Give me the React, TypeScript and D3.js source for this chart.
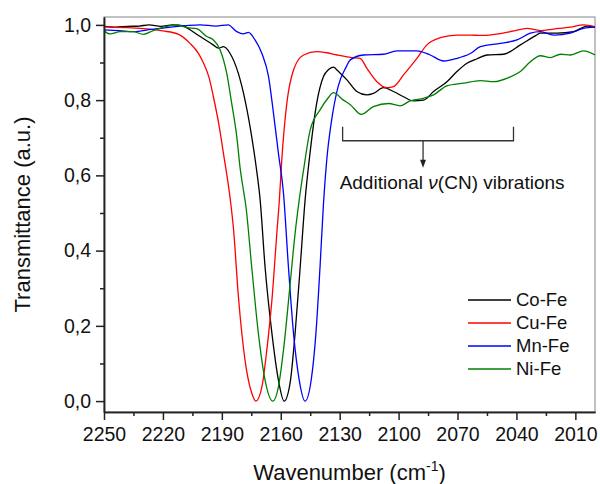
import React, { useEffect, useRef } from 'react';
import * as d3 from 'd3';

const width = 600, height = 484;
const margin = { top: 17, right: 5, bottom: 72, left: 104 };
const font = "'Liberation Sans', Arial, sans-serif";

// [wavenumber, transmittance]
const coFe: [number, number][] = [
    [2250, 0.996], [2244, 0.994], [2238, 0.996], [2232, 0.997], [2227, 1.0], [2221, 0.996], [2215, 1.0],
    [2210, 0.998], [2206.2, 0.987], [2201, 0.969], [2194.4, 0.947], [2191.8, 0.938], [2189.2, 0.942],
    [2185.8, 0.924], [2181.6, 0.871], [2178.2, 0.80], [2174.8, 0.703], [2172.3, 0.614], [2170.5, 0.535],
    [2168, 0.357], [2164.5, 0.18], [2161.2, 0.056], [2158.3, 0.0], [2155.2, 0.05], [2152.7, 0.18],
    [2150.1, 0.357], [2147.6, 0.535], [2145.1, 0.659], [2141.7, 0.792], [2138.3, 0.862], [2135.5, 0.882],
    [2133, 0.888], [2131.4, 0.88], [2126.3, 0.854], [2121.3, 0.823], [2116.2, 0.814], [2112.8, 0.818],
    [2107.7, 0.833], [2102.6, 0.823], [2097.5, 0.809], [2092.4, 0.798], [2087.3, 0.80], [2082.2, 0.823],
    [2075.4, 0.849], [2070.3, 0.876], [2065.2, 0.898], [2060, 0.91], [2055, 0.92], [2046.5, 0.922],
    [2038, 0.947], [2030, 0.972], [2027.8, 0.978], [2019.3, 0.978], [2010.9, 0.982], [2004, 0.997],
    [2000, 0.994]
];

const cuFe: [number, number][] = [
    [2250, 0.995], [2240, 0.993], [2230, 0.99], [2220, 0.984], [2212, 0.975], [2206.2, 0.951], [2202, 0.925],
    [2199.3, 0.898], [2196.5, 0.86], [2194.3, 0.809], [2191.5, 0.735], [2189.2, 0.659], [2185.8, 0.54],
    [2184.1, 0.46], [2181.6, 0.28], [2178.2, 0.109], [2174.7, 0.02], [2172.7, 0.0], [2169.6, 0.038],
    [2167.1, 0.136], [2164.5, 0.269], [2162, 0.446], [2160.7, 0.535], [2159.5, 0.64], [2156.9, 0.792],
    [2153.5, 0.88], [2148.4, 0.92], [2141.6, 0.929], [2136.5, 0.926], [2131.4, 0.92], [2124, 0.913],
    [2119.6, 0.911], [2116.2, 0.885], [2111, 0.849], [2105.9, 0.833], [2102.6, 0.836], [2097.5, 0.867],
    [2090.7, 0.911], [2085.6, 0.947], [2078.8, 0.966], [2070.3, 0.973], [2063.5, 0.973], [2058.4, 0.972],
    [2048.2, 0.977], [2041.4, 0.984], [2034.6, 0.991], [2027.8, 0.985], [2021, 0.989], [2012.5, 0.994],
    [2005.8, 1.0], [2000, 0.995]
];

const mnFe: [number, number][] = [
    [2250, 0.987], [2242, 0.985], [2235, 0.982], [2226, 0.988], [2218, 0.993], [2208, 0.998], [2201, 1.0],
    [2193, 0.997], [2186.8, 1.0], [2182.4, 0.982], [2179, 0.976], [2176.5, 0.98], [2173.1, 0.96],
    [2169.6, 0.924], [2166.2, 0.862], [2163.7, 0.765], [2161.2, 0.659], [2158.6, 0.552], [2156.1, 0.357],
    [2153.5, 0.18], [2150.6, 0.056], [2147.6, 0.0], [2144.5, 0.056], [2142.1, 0.18], [2140, 0.357],
    [2138.3, 0.52], [2136.6, 0.64], [2134.1, 0.747], [2130.8, 0.836], [2126.6, 0.889], [2124.6, 0.907],
    [2117.9, 0.92], [2107.7, 0.922], [2100.9, 0.931], [2090.7, 0.931], [2083.9, 0.92], [2077.1, 0.904],
    [2070.3, 0.911], [2063.5, 0.924], [2058.4, 0.942], [2048.2, 0.951], [2039.7, 0.96], [2032.9, 0.978],
    [2027.8, 0.982], [2021, 0.973], [2012.5, 0.978], [2005.8, 0.991], [2000, 0.994]
];

const niFe: [number, number][] = [
    [2250, 0.985], [2247, 0.976], [2241.8, 0.982], [2235.1, 0.982], [2230, 0.975], [2224.9, 0.985],
    [2218.1, 0.996], [2213, 1.0], [2207.9, 0.993], [2202.8, 0.99], [2197.7, 0.969], [2194.3, 0.96],
    [2190.9, 0.934], [2187.5, 0.871], [2185, 0.792], [2182.4, 0.703], [2180.7, 0.62], [2179, 0.56],
    [2177.8, 0.52], [2174.8, 0.357], [2171.4, 0.18], [2168, 0.056], [2164, 0.0], [2161.2, 0.038],
    [2158.6, 0.136], [2155.2, 0.313], [2152.7, 0.446], [2150.6, 0.535], [2148.4, 0.614], [2145, 0.721],
    [2140, 0.774], [2136, 0.805], [2133.2, 0.82], [2128.1, 0.80], [2124.6, 0.788], [2119, 0.762],
    [2112.8, 0.783], [2105, 0.791], [2099.2, 0.785], [2094.1, 0.798], [2087.3, 0.805], [2082.2, 0.814],
    [2075.4, 0.838], [2066.9, 0.845], [2058.4, 0.852], [2051.6, 0.849], [2043.1, 0.862], [2038, 0.876],
    [2032.9, 0.902], [2027.8, 0.918], [2022.7, 0.913], [2017.6, 0.922], [2012.5, 0.92], [2005.8, 0.931],
    [2000, 0.92]
];

const seriesNames = ['Co-Fe', 'Cu-Fe', 'Mn-Fe', 'Ni-Fe'];
const seriesColors = ['#000000', '#ff0000', '#0000ff', '#008000'];
const seriesData = [coFe, cuFe, mnFe, niFe];

const xTicks = [2250, 2220, 2190, 2160, 2130, 2100, 2070, 2040, 2010];
const xMinorTicks = [2235, 2205, 2175, 2145, 2115, 2085, 2055, 2025];
const yTicks = [0, 0.2, 0.4, 0.6, 0.8, 1.0];
const yMinorTicks = [0.1, 0.3, 0.5, 0.7, 0.9];

// bracket marking the additional v(CN) band region
const bracketRange = [2128.5, 2041.5];
const bracketTop = 0.729, bracketBar = 0.692, arrowTip = 0.62, noteBaseline = 0.563;

const xScale = d3.scaleLinear().domain([2250, 2000]).range([margin.left, width - margin.right]);
const yScale = d3.scaleLinear().domain([-0.029, 1.021]).range([height - margin.bottom, margin.top]);

const line = d3.line<[number, number]>()
    .x(d => xScale(d[0]))
    .y(d => yScale(d[1]))
    .curve(d3.curveMonotoneX);

const fmt = (d: d3.NumberValue) => d3.format('.1f')(d as number).replace('.', ',');

export default function App() {
    const xRef = useRef<SVGGElement>(null);
    const xMinorRef = useRef<SVGGElement>(null);
    const yRef = useRef<SVGGElement>(null);
    const yMinorRef = useRef<SVGGElement>(null);

    useEffect(() => {
        const style = (g: d3.Selection<SVGGElement, unknown, null, undefined>) => {
            g.attr('font-family', font).attr('font-size', 19.5);
            g.selectAll('path, line').attr('stroke', '#222').attr('stroke-width', 1.5);
            g.selectAll('text').attr('fill', '#111');
        };
        d3.select(xRef.current!).call(
            d3.axisBottom(xScale).tickValues(xTicks).tickSize(8).tickSizeOuter(0).tickPadding(7).tickFormat(d3.format('d'))
        ).call(style);
        d3.select(xMinorRef.current!).call(
            d3.axisBottom(xScale).tickValues(xMinorTicks).tickSize(4).tickSizeOuter(0).tickFormat(() => '')
        ).call(style);
        d3.select(yRef.current!).call(
            d3.axisLeft(yScale).tickValues(yTicks).tickSize(8).tickSizeOuter(0).tickPadding(5).tickFormat(fmt)
        ).call(style);
        d3.select(yMinorRef.current!).call(
            d3.axisLeft(yScale).tickValues(yMinorTicks).tickSize(4).tickSizeOuter(0).tickFormat(() => '')
        ).call(style);
    }, []);

    const plotW = width - margin.left - margin.right;
    const plotH = height - margin.top - margin.bottom;
    const midX = xScale((bracketRange[0] + bracketRange[1]) / 2) - 5;

    return (
        <svg width={width} height={height} viewBox={`0 0 ${width} ${height}`}
            style={{ position: 'absolute', left: 0, top: 0, background: '#fff' }}>
            <defs>
                <clipPath id="plot">
                    <rect x={margin.left} y={margin.top} width={plotW} height={plotH} />
                </clipPath>
            </defs>
            <rect x={margin.left} y={margin.top} width={plotW} height={plotH} fill="none" stroke="#9a9a9a" strokeWidth={1.2} />
            <g clipPath="url(#plot)">
                {seriesData.map((s, i) => (
                    <path key={seriesNames[i]} d={line(s) || ''} fill="none" stroke={seriesColors[i]} strokeWidth={1.3} />
                ))}
            </g>
            <g ref={xMinorRef} transform={`translate(0,${height - margin.bottom})`} />
            <g ref={xRef} transform={`translate(0,${height - margin.bottom})`} />
            <g ref={yMinorRef} transform={`translate(${margin.left},0)`} />
            <g ref={yRef} transform={`translate(${margin.left},0)`} />

            {/* annotation bracket */}
            <path d={`M${xScale(bracketRange[0])},${yScale(bracketTop)}V${yScale(bracketBar)}H${xScale(bracketRange[1])}V${yScale(bracketTop)}`}
                fill="none" stroke="#333" strokeWidth={1.3} />
            <line x1={midX} x2={midX} y1={yScale(bracketBar)} y2={yScale(arrowTip) - 7} stroke="#333" strokeWidth={1.3} />
            <path d={`M${midX - 3},${yScale(arrowTip) - 8}L${midX + 3},${yScale(arrowTip) - 8}L${midX},${yScale(arrowTip)}Z`} fill="#222" />
            <text x={xScale(bracketRange[0]) - 3} y={yScale(noteBaseline)} fontFamily={font} fontSize={19} fill="#111">
                Additional <tspan fontStyle="italic">ν</tspan>(CN) vibrations
            </text>

            {/* legend */}
            {seriesNames.map((n, i) => (
                <g key={n} transform={`translate(468,${300 + i * 23})`}>
                    <line x1={0} x2={43} y1={0} y2={0} stroke={seriesColors[i]} strokeWidth={1.3} />
                    <text x={48} y={0} dy="0.35em" fontFamily={font} fontSize={18.5} fill="#111">{n}</text>
                </g>
            ))}

            {/* axis titles */}
            <text x={(margin.left + width - margin.right) / 2} y={480} textAnchor="middle" fontFamily={font} fontSize={22} fill="#111">
                Wavenumber (cm<tspan dy={-9} fontSize={14}>-1</tspan><tspan dy={9}>)</tspan>
            </text>
            <text transform={`translate(30,${(margin.top + height - margin.bottom) / 2}) rotate(-90)`} textAnchor="middle"
                fontFamily={font} fontSize={22} fill="#111">
                Transmittance (a.u.)
            </text>
        </svg>
    );
}
